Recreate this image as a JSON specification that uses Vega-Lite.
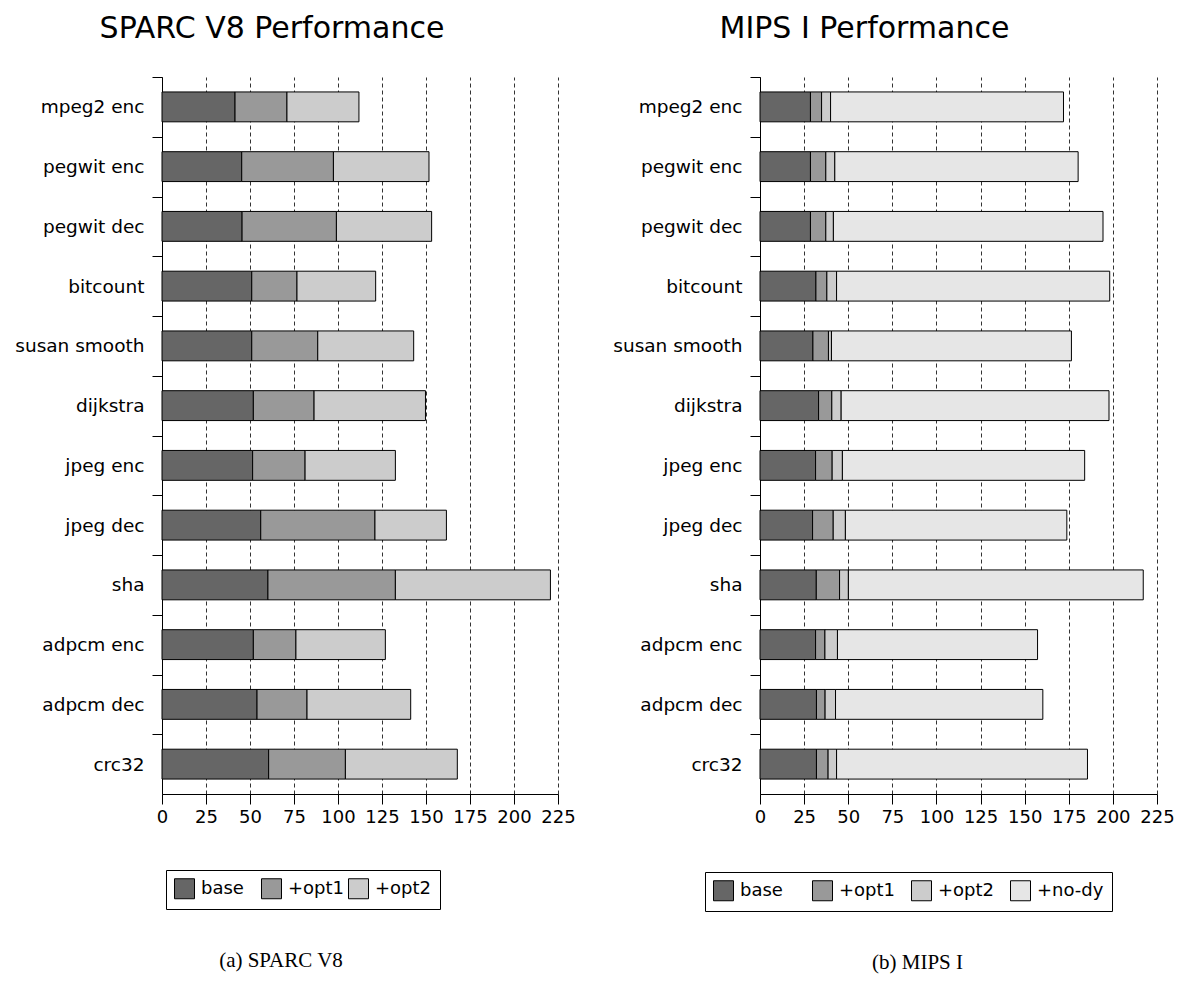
{
  "$schema": "https://vega.github.io/schema/vega-lite/v6.json",
  "padding": {"left": 14, "top": 13, "right": 5, "bottom": 5},
  "background": "white",
  "config": {
    "font": "DejaVu Sans",
    "view": {"stroke": null},
    "axis": {"labelColor": "black", "domainColor": "black", "tickColor": "black", "domainWidth": 1, "tickWidth": 1}
  },
  "datasets": {
    "sparc": [
      {"bench": "mpeg2 enc", "stage": "base", "level": 0, "value": 41.5}, {"bench": "mpeg2 enc", "stage": "+opt1", "level": 1, "value": 29.5}, {"bench": "mpeg2 enc", "stage": "+opt2", "level": 2, "value": 40.9},
      {"bench": "pegwit enc", "stage": "base", "level": 0, "value": 45.3}, {"bench": "pegwit enc", "stage": "+opt1", "level": 1, "value": 52.1}, {"bench": "pegwit enc", "stage": "+opt2", "level": 2, "value": 54.3},
      {"bench": "pegwit dec", "stage": "base", "level": 0, "value": 45.5}, {"bench": "pegwit dec", "stage": "+opt1", "level": 1, "value": 53.6}, {"bench": "pegwit dec", "stage": "+opt2", "level": 2, "value": 54.1},
      {"bench": "bitcount", "stage": "base", "level": 0, "value": 51.0}, {"bench": "bitcount", "stage": "+opt1", "level": 1, "value": 25.7}, {"bench": "bitcount", "stage": "+opt2", "level": 2, "value": 44.7},
      {"bench": "susan smooth", "stage": "base", "level": 0, "value": 51.0}, {"bench": "susan smooth", "stage": "+opt1", "level": 1, "value": 37.5}, {"bench": "susan smooth", "stage": "+opt2", "level": 2, "value": 54.5},
      {"bench": "dijkstra", "stage": "base", "level": 0, "value": 51.9}, {"bench": "dijkstra", "stage": "+opt1", "level": 1, "value": 34.5}, {"bench": "dijkstra", "stage": "+opt2", "level": 2, "value": 63.3},
      {"bench": "jpeg enc", "stage": "base", "level": 0, "value": 51.5}, {"bench": "jpeg enc", "stage": "+opt1", "level": 1, "value": 29.8}, {"bench": "jpeg enc", "stage": "+opt2", "level": 2, "value": 51.3},
      {"bench": "jpeg dec", "stage": "base", "level": 0, "value": 56.1}, {"bench": "jpeg dec", "stage": "+opt1", "level": 1, "value": 64.9}, {"bench": "jpeg dec", "stage": "+opt2", "level": 2, "value": 40.6},
      {"bench": "sha", "stage": "base", "level": 0, "value": 60.2}, {"bench": "sha", "stage": "+opt1", "level": 1, "value": 72.4}, {"bench": "sha", "stage": "+opt2", "level": 2, "value": 88.1},
      {"bench": "adpcm enc", "stage": "base", "level": 0, "value": 51.9}, {"bench": "adpcm enc", "stage": "+opt1", "level": 1, "value": 24.2}, {"bench": "adpcm enc", "stage": "+opt2", "level": 2, "value": 50.8},
      {"bench": "adpcm dec", "stage": "base", "level": 0, "value": 54.0}, {"bench": "adpcm dec", "stage": "+opt1", "level": 1, "value": 28.4}, {"bench": "adpcm dec", "stage": "+opt2", "level": 2, "value": 58.9},
      {"bench": "crc32", "stage": "base", "level": 0, "value": 60.6}, {"bench": "crc32", "stage": "+opt1", "level": 1, "value": 43.6}, {"bench": "crc32", "stage": "+opt2", "level": 2, "value": 63.6}
    ],
    "mips": [
      {"bench": "mpeg2 enc", "stage": "base", "level": 0, "value": 28.6}, {"bench": "mpeg2 enc", "stage": "+opt1", "level": 1, "value": 6.3}, {"bench": "mpeg2 enc", "stage": "+opt2", "level": 2, "value": 5.1}, {"bench": "mpeg2 enc", "stage": "+no-dy", "level": 3, "value": 132.0},
      {"bench": "pegwit enc", "stage": "base", "level": 0, "value": 28.6}, {"bench": "pegwit enc", "stage": "+opt1", "level": 1, "value": 8.7}, {"bench": "pegwit enc", "stage": "+opt2", "level": 2, "value": 5.1}, {"bench": "pegwit enc", "stage": "+no-dy", "level": 3, "value": 137.9},
      {"bench": "pegwit dec", "stage": "base", "level": 0, "value": 28.6}, {"bench": "pegwit dec", "stage": "+opt1", "level": 1, "value": 8.7}, {"bench": "pegwit dec", "stage": "+opt2", "level": 2, "value": 4.3}, {"bench": "pegwit dec", "stage": "+no-dy", "level": 3, "value": 152.8},
      {"bench": "bitcount", "stage": "base", "level": 0, "value": 31.7}, {"bench": "bitcount", "stage": "+opt1", "level": 1, "value": 6.2}, {"bench": "bitcount", "stage": "+opt2", "level": 2, "value": 5.5}, {"bench": "bitcount", "stage": "+no-dy", "level": 3, "value": 154.8},
      {"bench": "susan smooth", "stage": "base", "level": 0, "value": 30.0}, {"bench": "susan smooth", "stage": "+opt1", "level": 1, "value": 8.8}, {"bench": "susan smooth", "stage": "+opt2", "level": 2, "value": 1.7}, {"bench": "susan smooth", "stage": "+no-dy", "level": 3, "value": 136.0},
      {"bench": "dijkstra", "stage": "base", "level": 0, "value": 33.2}, {"bench": "dijkstra", "stage": "+opt1", "level": 1, "value": 7.5}, {"bench": "dijkstra", "stage": "+opt2", "level": 2, "value": 5.3}, {"bench": "dijkstra", "stage": "+no-dy", "level": 3, "value": 151.8},
      {"bench": "jpeg enc", "stage": "base", "level": 0, "value": 31.5}, {"bench": "jpeg enc", "stage": "+opt1", "level": 1, "value": 9.4}, {"bench": "jpeg enc", "stage": "+opt2", "level": 2, "value": 5.8}, {"bench": "jpeg enc", "stage": "+no-dy", "level": 3, "value": 137.3},
      {"bench": "jpeg dec", "stage": "base", "level": 0, "value": 29.8}, {"bench": "jpeg dec", "stage": "+opt1", "level": 1, "value": 11.7}, {"bench": "jpeg dec", "stage": "+opt2", "level": 2, "value": 6.9}, {"bench": "jpeg dec", "stage": "+no-dy", "level": 3, "value": 125.5},
      {"bench": "sha", "stage": "base", "level": 0, "value": 31.9}, {"bench": "sha", "stage": "+opt1", "level": 1, "value": 13.2}, {"bench": "sha", "stage": "+opt2", "level": 2, "value": 5.0}, {"bench": "sha", "stage": "+no-dy", "level": 3, "value": 167.1},
      {"bench": "adpcm enc", "stage": "base", "level": 0, "value": 31.5}, {"bench": "adpcm enc", "stage": "+opt1", "level": 1, "value": 5.3}, {"bench": "adpcm enc", "stage": "+opt2", "level": 2, "value": 7.1}, {"bench": "adpcm enc", "stage": "+no-dy", "level": 3, "value": 113.4},
      {"bench": "adpcm dec", "stage": "base", "level": 0, "value": 32.0}, {"bench": "adpcm dec", "stage": "+opt1", "level": 1, "value": 4.9}, {"bench": "adpcm dec", "stage": "+opt2", "level": 2, "value": 5.9}, {"bench": "adpcm dec", "stage": "+no-dy", "level": 3, "value": 117.5},
      {"bench": "crc32", "stage": "base", "level": 0, "value": 32.0}, {"bench": "crc32", "stage": "+opt1", "level": 1, "value": 6.6}, {"bench": "crc32", "stage": "+opt2", "level": 2, "value": 4.8}, {"bench": "crc32", "stage": "+no-dy", "level": 3, "value": 142.2}
    ]
  },
  "spacing": 36,
  "resolve": {"scale": {"color": "independent"}, "legend": {"color": "independent"}},
  "hconcat": [
    {
      "title": {"text": "(a) SPARC V8", "orient": "bottom", "anchor": "middle", "dx": -14, "font": "Liberation Serif", "fontSize": 21, "fontWeight": "normal", "color": "black", "offset": 40},
      "vconcat": [
        {
          "title": {"text": "SPARC V8 Performance", "font": "DejaVu Sans", "fontSize": 30, "fontWeight": "normal", "color": "black", "anchor": "middle", "dx": -88, "offset": 33},
          "data": {"name": "sparc"},
          "width": 396,
          "height": 717,
          "mark": {"type": "bar", "stroke": "black", "strokeWidth": 1},
          "encoding": {
            "y": {"field": "bench", "type": "nominal", "sort": null,
              "scale": {"paddingInner": 0.5, "paddingOuter": 0.25},
              "axis": {"title": null, "tickSize": 10, "tickOffset": -29.875, "labelOffset": 29.875, "labelPadding": 8, "labelFontSize": 18.5, "grid": false}},
            "x": {"field": "value", "type": "quantitative", "stack": "zero",
              "scale": {"domain": [0, 225], "nice": false},
              "axis": {"title": null, "values": [0, 25, 50, 75, 100, 125, 150, 175, 200, 225], "tickSize": 10, "labelPadding": 4, "labelFontSize": 18, "labelFlush": false,
                "grid": true, "gridDash": [4, 3], "gridColor": "#333333", "gridWidth": 1}},
            "order": {"field": "level", "type": "quantitative"},
            "color": {"field": "stage", "type": "nominal", "sort": ["base", "+opt1", "+opt2"],
              "scale": {"domain": ["base", "+opt1", "+opt2"], "range": ["#666666", "#999999", "#cccccc"]},
              "legend": {"title": null, "orient": "none", "legendX": 4, "legendY": 793, "direction": "horizontal", "symbolType": "square", "symbolSize": 400,
                "symbolStrokeColor": "black", "symbolStrokeWidth": 1, "symbolOpacity": 1, "labelFontSize": 18, "labelColor": "black", "strokeColor": "black",
                "padding": 8, "columnPadding": 1, "gridAlign": "all", "labelOffset": 6}}
          }
        }
      ]
    },
    {
      "title": {"text": "(b) MIPS I", "orient": "bottom", "anchor": "middle", "dx": 24, "font": "Liberation Serif", "fontSize": 21, "fontWeight": "normal", "color": "black", "offset": 40},
      "vconcat": [
        {
          "title": {"text": "MIPS I Performance", "font": "DejaVu Sans", "fontSize": 30, "fontWeight": "normal", "color": "black", "anchor": "middle", "dx": -94, "offset": 33},
          "data": {"name": "mips"},
          "width": 397,
          "height": 717,
          "mark": {"type": "bar", "stroke": "black", "strokeWidth": 1},
          "encoding": {
            "y": {"field": "bench", "type": "nominal", "sort": null,
              "scale": {"paddingInner": 0.5, "paddingOuter": 0.25},
              "axis": {"title": null, "tickSize": 10, "tickOffset": -29.875, "labelOffset": 29.875, "labelPadding": 8, "labelFontSize": 18.5, "grid": false}},
            "x": {"field": "value", "type": "quantitative", "stack": "zero",
              "scale": {"domain": [0, 225], "nice": false},
              "axis": {"title": null, "values": [0, 25, 50, 75, 100, 125, 150, 175, 200, 225], "tickSize": 10, "labelPadding": 4, "labelFontSize": 18, "labelFlush": false,
                "grid": true, "gridDash": [4, 3], "gridColor": "#333333", "gridWidth": 1}},
            "order": {"field": "level", "type": "quantitative"},
            "color": {"field": "stage", "type": "nominal", "sort": ["base", "+opt1", "+opt2", "+no-dy"],
              "scale": {"domain": ["base", "+opt1", "+opt2", "+no-dy"], "range": ["#666666", "#999999", "#cccccc", "#e6e6e6"]},
              "legend": {"title": null, "orient": "none", "legendX": -55, "legendY": 795, "direction": "horizontal", "symbolType": "square", "symbolSize": 400,
                "symbolStrokeColor": "black", "symbolStrokeWidth": 1, "symbolOpacity": 1, "labelFontSize": 18, "labelColor": "black", "strokeColor": "black",
                "padding": 8, "columnPadding": 3, "gridAlign": "all", "labelOffset": 6}}
          }
        }
      ]
    }
  ]
}
